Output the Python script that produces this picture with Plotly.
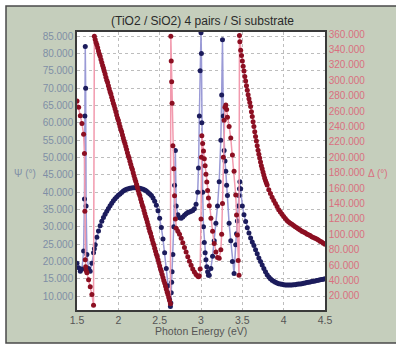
import plotly.graph_objects as go

# ---- Psi(E) ----
energy_psi = [1.50, 1.52, 1.54, 1.56, 1.58, 1.59, 1.595, 1.60, 1.605, 1.61, 1.62, 1.64, 1.66, 1.68, 1.70, 1.71,
              1.72, 1.74, 1.76, 1.78, 1.80, 1.82, 1.84, 1.86, 1.88, 1.90, 1.92, 1.94, 1.96, 1.98, 2.00,
              2.02, 2.04, 2.06, 2.08, 2.10, 2.12, 2.14, 2.16, 2.18, 2.20, 2.22, 2.24, 2.26, 2.28, 2.30,
              2.32, 2.34, 2.36, 2.38, 2.40, 2.42, 2.44, 2.46, 2.48, 2.50, 2.52, 2.54, 2.56, 2.58, 2.60,
              2.62, 2.63, 2.635, 2.64, 2.645, 2.65, 2.66, 2.67, 2.68, 2.69, 2.70, 2.72, 2.74, 2.76, 2.78,
              2.80, 2.82, 2.84, 2.86, 2.88, 2.90, 2.92, 2.94, 2.96, 2.97, 2.98, 2.99, 3.00, 3.005, 3.01,
              3.02, 3.03, 3.04, 3.05, 3.06, 3.07, 3.08, 3.09, 3.10, 3.12, 3.14, 3.16, 3.18, 3.20, 3.22,
              3.24, 3.25, 3.26, 3.27, 3.28, 3.29, 3.30, 3.31, 3.32, 3.34, 3.36, 3.38, 3.40, 3.42, 3.43,
              3.44, 3.45, 3.46, 3.465, 3.47, 3.48, 3.50, 3.52, 3.54, 3.56, 3.58, 3.60, 3.62, 3.64, 3.66,
              3.68, 3.70, 3.72, 3.74, 3.76, 3.78, 3.80, 3.82, 3.84, 3.86, 3.88, 3.90, 3.92, 3.94, 3.96,
              3.98, 4.00, 4.02, 4.04, 4.06, 4.08, 4.10, 4.12, 4.14, 4.16, 4.18, 4.20, 4.22, 4.24, 4.26,
              4.28, 4.30, 4.32, 4.34, 4.36, 4.38, 4.40, 4.42, 4.44, 4.46, 4.48, 4.50]

psi = [19.5, 18.2, 17.2, 17.8, 23, 38, 62, 82, 70, 36, 22, 18, 17.2, 19.5, 22.5, 23.7,
       24.8, 27, 28.8, 30.3, 31.6, 32.7, 33.6, 34.5, 35.3, 36.1, 36.8, 37.5, 38.1, 38.6, 39.1,
       39.5, 39.9, 40.3, 40.6, 40.8, 41.0, 41.1, 41.2, 41.3, 41.3, 41.3, 41.2, 41.1, 41.0, 40.8,
       40.6, 40.3, 39.9, 39.5, 39.0, 38.3, 37.4, 36.2, 34.6, 32.5, 29.8, 26.5, 22.5, 18, 13,
       9, 7, 8, 11, 14, 17, 22, 30, 42, 52, 36, 33.5, 32.6, 32.5, 32.8,
       33.3, 33.8, 34.1, 34.3, 34.5, 34.7, 35.2, 36.5, 40, 47, 62, 75, 86, 80, 60,
       40, 30, 25.5, 22.5, 20.5, 18.5, 17, 16, 16, 18, 21.5, 26, 31, 36, 43,
       55, 68, 84, 62, 52, 49, 46, 42, 39, 31, 26, 20, 16.5, 24.8, 28,
       31.7, 36, 39, 41, 43, 41, 36, 33.5, 31.5, 29.7, 28.2, 26.8, 25.6, 24.6, 23.4,
       22.2, 21, 20, 19, 18, 17, 16.2, 15.5, 15, 14.6, 14.3, 14.0, 13.8, 13.6, 13.5,
       13.4, 13.3, 13.2, 13.2, 13.2, 13.2, 13.2, 13.3, 13.3, 13.4, 13.5, 13.5, 13.6, 13.7, 13.8,
       13.9, 14.0, 14.1, 14.2, 14.3, 14.4, 14.5, 14.6, 14.7, 14.8, 14.9, 15.0]

# ---- Delta(E) ----
energy_delta = [1.50, 1.52, 1.54, 1.56, 1.58, 1.59, 1.595, 1.60, 1.605, 1.61, 1.62, 1.64, 1.66, 1.68, 1.70, 1.71,
                1.72, 1.73, 1.74, 1.75, 1.76, 1.77, 1.78, 1.79, 1.80, 1.81, 1.82, 1.83, 1.84, 1.85, 1.86,
                1.87, 1.88, 1.89, 1.90, 1.91, 1.92, 1.93, 1.94, 1.95, 1.96, 1.97, 1.98, 1.99, 2.00, 2.01,
                2.02, 2.03, 2.04, 2.05, 2.06, 2.07, 2.08, 2.09, 2.10, 2.11, 2.12, 2.13, 2.14, 2.15, 2.16,
                2.17, 2.18, 2.19, 2.20, 2.21, 2.22, 2.23, 2.24, 2.25, 2.26, 2.27, 2.28, 2.29, 2.30, 2.31,
                2.32, 2.33, 2.34, 2.35, 2.36, 2.37, 2.38, 2.39, 2.40, 2.41, 2.42, 2.43, 2.44, 2.45, 2.46,
                2.47, 2.48, 2.49, 2.50, 2.51, 2.52, 2.53, 2.54, 2.55, 2.56, 2.57, 2.58, 2.59, 2.60, 2.61,
                2.62, 2.63, 2.635, 2.64, 2.645, 2.65, 2.66, 2.67, 2.68, 2.69, 2.70, 2.72, 2.74, 2.76, 2.78,
                2.80, 2.82, 2.84, 2.86, 2.88, 2.90, 2.92, 2.94, 2.96, 2.97, 2.98, 2.99, 3.00, 3.005, 3.01,
                3.02, 3.03, 3.04, 3.05, 3.06, 3.07, 3.08, 3.09, 3.10, 3.12, 3.14, 3.16, 3.18, 3.20, 3.22,
                3.24, 3.25, 3.26, 3.27, 3.28, 3.29, 3.30, 3.31, 3.32, 3.34, 3.36, 3.38, 3.40, 3.42, 3.43,
                3.44, 3.45, 3.46, 3.465, 3.47, 3.48, 3.49, 3.50, 3.51, 3.52, 3.53, 3.54, 3.55, 3.56, 3.57,
                3.58, 3.59, 3.60, 3.61, 3.62, 3.63, 3.64, 3.65, 3.66, 3.67, 3.68, 3.69, 3.70, 3.71, 3.72,
                3.73, 3.74, 3.75, 3.76, 3.77, 3.78, 3.79, 3.80, 3.82, 3.84, 3.86, 3.88, 3.90, 3.92, 3.94,
                3.96, 3.98, 4.00, 4.02, 4.04, 4.06, 4.08, 4.10, 4.12, 4.14, 4.16, 4.18, 4.20, 4.22, 4.24,
                4.26, 4.28, 4.30, 4.32, 4.34, 4.36, 4.38, 4.40, 4.42, 4.44, 4.46, 4.48, 4.50]

delta = [273, 265, 254, 244, 230, 205, 130, 67, 58, 53, 50, 41, 32, 22, 8, 357,
         353, 349, 346, 342, 338, 334, 331, 327, 323, 319, 316, 312, 308, 304, 300,
         297, 293, 289, 285, 282, 278, 274, 270, 267, 263, 259, 255, 251, 248, 244,
         240, 236, 233, 229, 225, 221, 218, 214, 210, 206, 202, 199, 195, 191, 187,
         184, 180, 176, 172, 169, 165, 161, 157, 153, 150, 146, 142, 138, 135, 131,
         127, 123, 120, 116, 112, 108, 104, 101, 97, 93, 89, 86, 82, 78, 74,
         71, 67, 63, 59, 55, 52, 48, 44, 40, 37, 33, 29, 25, 22, 18,
         14, 10, 357, 325, 298, 270, 215, 185, 150, 120, 108, 104, 100, 95, 89,
         83, 77, 71, 65, 60, 55, 51, 48, 46, 45, 46, 55, 120, 200, 228,
         218, 208, 198, 189, 178, 168, 157, 147, 137, 121, 104, 88, 77, 70, 69,
         80, 100, 140, 200, 248, 265, 268, 262, 252, 240, 225, 203, 182, 151, 125,
         99, 66, 47, 358, 350, 339, 332, 325, 318, 312, 305, 299, 293, 287, 281,
         276, 271, 266, 259, 253, 246, 240, 233, 227, 221, 215, 209, 204, 199, 194,
         189, 185, 181, 177, 173, 170, 167, 164, 158, 153, 148, 144, 140, 136, 132,
         129, 126, 123, 120.5, 118, 116, 114.5, 113, 111.5, 110, 108.5, 107, 105.5, 104, 103,
         102, 100.5, 99.5, 98.5, 97, 96, 95, 94, 92.5, 91, 90, 88.5, 87]

psi_ticks = [10, 15, 20, 25, 30, 35, 40, 45, 50, 55, 60, 65, 70, 75, 80, 85]
delta_ticks = [20, 40, 60, 80, 100, 120, 140, 160, 180, 200, 220, 240, 260, 280, 300, 320, 340, 360]
x_ticks = [1.5, 2, 2.5, 3, 3.5, 4, 4.5]

W, H = 396, 346
L, R, T, B = 77, 325, 32, 310
pw, ph = R - L, B - T


def px(x):
    return (x - L) / pw


def py(y):
    return (B - y) / ph


FONT = "Liberation Sans, Arial, sans-serif"
PSI_COL = "#7f8ea6"
DEL_COL = "#d9707f"

fig = go.Figure()
fig.add_trace(go.Scatter(
    x=energy_psi, y=psi, mode="lines+markers", name="Psi",
    line=dict(color="#9a9ad6", width=1.5),
    marker=dict(color="#1c1c5c", size=5),
))
fig.add_trace(go.Scatter(
    x=energy_delta, y=delta, mode="lines+markers", name="Delta", yaxis="y2",
    line=dict(color="#f29aae", width=1.5),
    marker=dict(color="#8c0f22", size=5),
))

grid = dict(showgrid=True, gridcolor="#bdbdbd", griddash="3px,3px", gridwidth=1)

fig.update_layout(
    width=W, height=H,
    margin=dict(l=L, r=W - R, t=T, b=H - B),
    paper_bgcolor="white", plot_bgcolor="white",
    showlegend=False,
    font=dict(family=FONT, size=10),
    xaxis=dict(range=[1.5, 4.5], tickvals=x_ticks, ticktext=[str(v) for v in x_ticks],
               showline=True, linecolor="#3a3a3a", linewidth=1.5, mirror=True,
               ticks="", zeroline=False, tickfont=dict(color="#555555", size=10.5),
               **grid),
    yaxis=dict(range=[6.0, 86.2], tickvals=psi_ticks,
               ticktext=[f"{v:.3f}" for v in psi_ticks],
               showline=True, linecolor="#3a3a3a", linewidth=1.5, mirror=True,
               ticks="", zeroline=False, tickfont=dict(color=PSI_COL, size=10),
               **grid),
    yaxis2=dict(range=[1.8, 362.6], tickvals=delta_ticks,
                ticktext=[f"{v:.3f}" for v in delta_ticks],
                overlaying="y", side="right", showgrid=False, zeroline=False,
                showline=True, linecolor="#3a3a3a", linewidth=1.5,
                ticks="", tickfont=dict(color=DEL_COL, size=10)),
)

# outer panel and white plot area
fig.add_shape(type="rect", xref="paper", yref="paper",
              x0=px(6), x1=px(402), y0=py(343), y1=py(6),
              fillcolor="#c5cebc", line=dict(color="#4a4a4a", width=1.5), layer="below")
fig.add_shape(type="rect", xref="paper", yref="paper",
              x0=0, x1=1, y0=0, y1=1,
              fillcolor="white", line=dict(width=0), layer="below")

ann = dict(xref="paper", yref="paper", showarrow=False, xanchor="center", yanchor="middle")
fig.add_annotation(text="(TiO2 / SiO2) 4 pairs / Si substrate", x=px(202), y=py(21),
                   font=dict(size=12, color="#2a2a2a", family=FONT), **ann)
fig.add_annotation(text="Photon Energy (eV)", x=px(201), y=py(331),
                   font=dict(size=10.5, color="#555555", family=FONT), **ann)
fig.add_annotation(text="Ψ (°)", x=px(25), y=py(173),
                   font=dict(size=10, color=PSI_COL, family=FONT), **ann)
fig.add_annotation(text="Δ (°)", x=px(378), y=py(173),
                   font=dict(size=10, color=DEL_COL, family=FONT), **ann)

fig.write_html("out.html", config={"displayModeBar": False},
               post_script="document.body.style.margin='0px';")
